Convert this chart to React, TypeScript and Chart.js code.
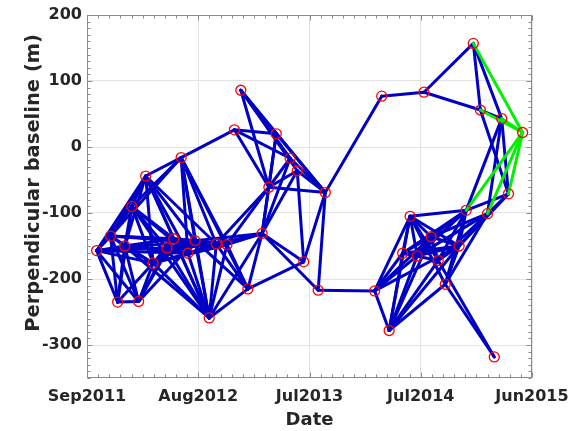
import React, { useEffect, useRef } from "react";
import { Chart, registerables } from "chart.js";

Chart.register(...registerables);

// x axis: days since the first tick (Sep 2011); ticks every 345 days
const tickStepDays = 345;
const xTickLabels = ["Sep2011", "Aug2012", "Jul2013", "Jul2014", "Jun2015"];
const yTickValues = [-300, -200, -100, 0, 100, 200];
const yMin = -350;
const yMax = 200;

// acquisitions: day offset and perpendicular baseline (m)
const acqDay = [
  30, 73, 95, 117, 139, 160, 182, 205, 248, 269, 292, 313, 335, 379, 401, 434,
  457, 477, 499, 543, 564, 587, 630, 652, 672, 717, 739,
  892, 914, 937, 979, 1002, 1024, 1045, 1067, 1089, 1111, 1154, 1176, 1198,
  1220, 1242, 1263, 1286, 1307, 1351,
];
const bperp = [
  -157, -135, -235, -150, -90, -234, -44, -176, -153, -139, -16, -161, -142,
  -259, -147, -148,
  26, 86, -215, -131, -61, 20, -17, -36, -174, -217, -69,
  -218, 77, -278, -161, -105, -165, 83, -136, -172, -208, -150, -96, 157, 56,
  -101, -318, 43, -71, 22,
];

// interferometric pairs (indices into the acquisition arrays)
const bluePairs: [number, number][] = [
  [0, 1], [0, 2], [0, 3], [0, 4], [0, 5], [0, 6], [0, 7], [0, 8], [0, 11], [0, 12],
  [1, 2], [1, 3], [1, 4], [1, 5], [1, 6], [1, 7], [1, 9], [1, 10], [1, 12], [1, 14],
  [2, 3], [2, 5], [2, 4], [2, 8],
  [3, 4], [3, 5], [3, 6], [3, 7], [3, 9], [3, 11], [3, 13],
  [4, 6], [4, 7], [4, 8], [4, 9], [4, 10], [4, 11], [4, 13],
  [5, 7], [5, 8], [5, 9], [5, 12],
  [6, 10], [6, 7], [6, 9], [6, 11], [6, 12], [6, 13], [6, 14],
  [7, 8], [7, 9], [7, 11], [7, 12], [7, 13], [7, 15],
  [8, 9], [8, 11], [8, 12], [8, 13], [8, 14], [8, 15],
  [9, 12], [9, 13], [9, 14],
  [10, 11], [10, 12], [10, 13], [10, 15], [10, 16], [10, 18], [10, 14],
  [11, 12], [11, 13], [11, 14], [11, 15], [11, 19],
  [12, 13], [12, 14], [12, 15], [12, 19], [12, 18],
  [13, 14], [13, 15], [13, 18], [13, 19],
  [14, 15], [14, 18], [14, 19], [14, 20],
  [15, 18], [15, 19], [15, 20],
  [16, 21], [16, 20], [16, 22], [17, 21], [17, 22], [17, 26], [17, 20], [17, 23],
  [21, 26], [21, 20], [21, 19], [22, 19], [22, 20], [22, 26], [23, 20], [23, 24],
  [23, 19], [20, 26], [20, 19], [19, 24], [19, 25], [19, 18], [24, 26], [24, 18],
  [25, 26], [23, 26],
  [25, 27], [26, 28], [28, 33], [33, 39], [33, 40], [39, 40], [39, 43], [40, 43],
  [40, 44], [31, 38], [43, 38], [43, 41], [43, 44], [41, 44], [38, 44],
  [42, 36], [42, 35],
  [27, 29], [27, 30], [27, 31], [27, 32], [27, 34], [27, 37],
  [29, 30], [29, 31], [29, 32], [29, 34], [29, 36], [29, 37], [29, 35],
  [31, 30], [31, 32], [31, 34], [31, 35], [31, 36], [31, 37],
  [30, 34], [30, 37], [30, 38], [30, 32], [30, 35],
  [32, 34], [32, 37], [32, 38], [32, 41],
  [34, 35], [34, 37], [34, 38], [34, 41],
  [35, 37], [35, 38], [35, 41], [36, 37], [36, 38], [36, 41],
  [37, 38], [37, 41], [37, 44],
];
const greenPairs: [number, number][] = [
  [39, 45], [40, 45], [43, 45], [45, 38], [45, 41], [45, 44],
];

const BLUE = "#0000c4";
const GREEN = "#00f000";
const RED = "#ff0000";
const FONT = "'DejaVu Sans', sans-serif";

const boxPlugin = {
  id: "matlabBox",
  afterDraw(chart: any) {
    const { ctx, chartArea: a, scales } = chart;
    const xs = scales.x;
    const ys = scales.y;
    ctx.save();
    ctx.strokeStyle = "#8a8a8a";
    ctx.lineWidth = 1;
    const L = Math.round(a.left) + 0.5;
    const R = Math.round(a.right) - 0.5;
    const T = Math.round(a.top) + 0.5;
    const B = Math.round(a.bottom) - 0.5;
    ctx.strokeRect(L, T, R - L, B - T);
    ctx.beginPath();
    const nMajor = xTickLabels.length - 1;
    for (let k = 0; k < nMajor; k++) {
      for (let m = 0; m <= 10; m++) {
        if (k > 0 && m === 0) continue;
        const v = k * tickStepDays + (m * tickStepDays) / 10;
        const px = Math.round(xs.getPixelForValue(v)) + 0.5;
        const len = m % 10 === 0 ? 5 : 3;
        ctx.moveTo(px, B);
        ctx.lineTo(px, B - len);
        ctx.moveTo(px, T);
        ctx.lineTo(px, T + len);
      }
    }
    for (let v = yMin; v <= yMax; v += 10) {
      const py = Math.round(ys.getPixelForValue(v)) + 0.5;
      const len = v % 100 === 0 ? 5 : 3;
      ctx.moveTo(L, py);
      ctx.lineTo(L + len, py);
      ctx.moveTo(R, py);
      ctx.lineTo(R - len, py);
    }
    ctx.stroke();
    ctx.restore();
  },
};

export default function App() {
  const ref = useRef<HTMLCanvasElement | null>(null);
  useEffect(() => {
    if (!ref.current) return;
    const pts = acqDay.map((d, i) => ({ x: d, y: bperp[i] }));
    const edge = (p: [number, number], color: string) => ({
      type: "scatter" as const,
      data: [pts[p[0]], pts[p[1]]],
      showLine: true,
      borderColor: color,
      backgroundColor: color,
      borderWidth: 3,
      borderCapStyle: "round",
      pointRadius: 0,
      pointHoverRadius: 0,
    });
    const datasets: any[] = [
      {
        type: "scatter",
        data: pts,
        showLine: false,
        pointRadius: 5,
        pointBorderWidth: 1.3,
        pointBorderColor: RED,
        pointBackgroundColor: "rgba(0,0,0,0)",
      },
      ...greenPairs.map((p) => edge(p, GREEN)),
      ...bluePairs.map((p) => edge(p, BLUE)),
    ];
    const chart = new Chart(ref.current, {
      type: "scatter",
      data: { datasets },
      plugins: [boxPlugin],
      options: {
        animation: false,
        responsive: false,
        devicePixelRatio: 1,
        layout: { padding: { left: 0, right: 51, top: 15, bottom: 0 } },
        plugins: { legend: { display: false }, tooltip: { enabled: false } },
        events: [],
        scales: {
          x: {
            type: "linear",
            min: 0,
            max: tickStepDays * (xTickLabels.length - 1),
            afterBuildTicks: (s: any) => {
              s.ticks = xTickLabels.map((_, i) => ({ value: i * tickStepDays }));
            },
            afterFit: (s: any) => {
              s.height = 53;
            },
            ticks: {
              autoSkip: false,
              maxRotation: 0,
              padding: 9,
              color: "#262626",
              font: { family: FONT, size: 16, weight: "bold" },
              callback: (_v: any, i: number) => xTickLabels[i],
            },
            grid: { color: "#e3e3e3", lineWidth: 1, drawTicks: false },
            border: { display: false },
            title: {
              display: true,
              text: "Date",
              color: "#262626",
              font: { family: FONT, size: 18, weight: "bold" },
              padding: { top: 0, bottom: 0 },
            },
          },
          y: {
            type: "linear",
            min: yMin,
            max: yMax,
            afterBuildTicks: (s: any) => {
              s.ticks = yTickValues.map((v) => ({ value: v }));
            },
            afterFit: (s: any) => {
              s.width = 87;
            },
            ticks: {
              padding: 5,
              color: "#262626",
              font: { family: FONT, size: 16, weight: "bold" },
            },
            grid: { color: "#e3e3e3", lineWidth: 1, drawTicks: false },
            border: { display: false },
            title: {
              display: true,
              text: "    Perpendicular baseline (m)",
              color: "#262626",
              font: { family: FONT, size: 19.5, weight: "bold" },
              padding: { top: 22, bottom: 0 },
            },
          },
        },
      } as any,
    });
    return () => chart.destroy();
  }, []);
  return (
    <div style={{ position: "fixed", left: 0, top: 0, width: 583, height: 431, background: "#fff" }}>
      <canvas ref={ref} width={583} height={431} style={{ width: 583, height: 431 }} />
    </div>
  );
}
